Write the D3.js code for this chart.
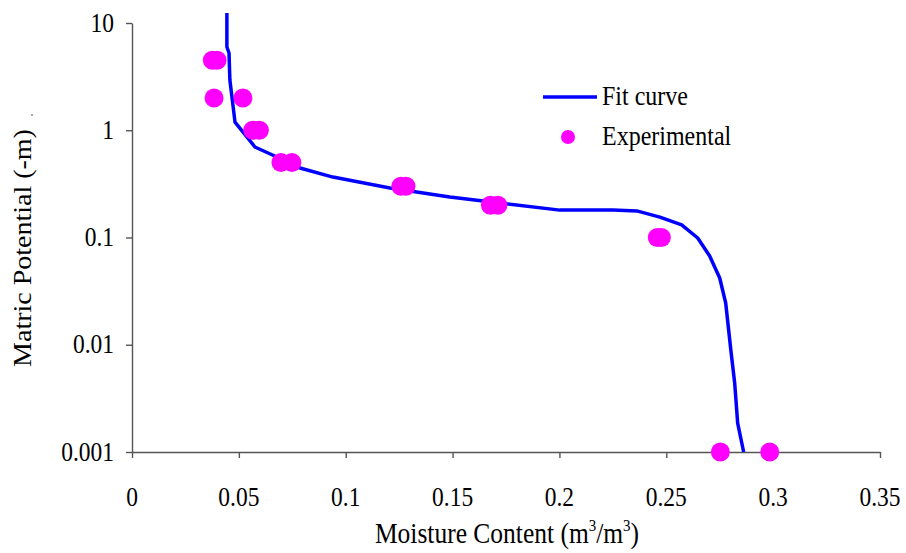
<!DOCTYPE html>
<html><head><meta charset="utf-8">
<script src="https://cdn.jsdelivr.net/npm/d3@7"></script>
<style>
body{margin:0;background:#fff}
svg text{font-family:"Liberation Serif","Times New Roman",serif;fill:#000}
</style>
</head><body>
<svg id="c" width="906" height="553"></svg>
<script>
// Fit curve (moisture content vs matric potential)
const fitTheta = [0.0444,0.0444,0.0454,0.0458,0.0482,0.0575,0.0678,0.0786,0.094,0.1207,0.1487,0.1721,0.2002,0.225,0.2362,0.247,0.2572,0.2647,0.2703,0.275,0.2778,0.2802,0.282,0.2834,0.2862];
const fitPsi   = [12.4,5.97,5.25,2.94,1.19,0.698,0.563,0.445,0.366,0.29,0.239,0.21,0.18,0.18,0.177,0.155,0.131,0.0989,0.0672,0.0419,0.0245,0.00893,0.0044,0.00186,0.001];
// Experimental points
const expTheta = [0.0376,0.0398,0.0384,0.0519,0.0565,0.0596,0.0697,0.0748,0.1258,0.1282,0.1677,0.1712,0.2458,0.2477,0.2753,0.2984];
const expPsi   = [4.5,4.5,2,2,1,1,0.5,0.5,0.3,0.3,0.2,0.2,0.1,0.1,0.001,0.001];
// Axes
const xTicks = [0,0.05,0.1,0.15,0.2,0.25,0.3,0.35];
const xTickLabels = ["0","0.05","0.1","0.15","0.2","0.25","0.3","0.35"];
const yTicks = [0.001,0.01,0.1,1,10];
const yTickLabels = ["0.001","0.01","0.1","1","10"];
const seriesNames = ["Fit curve","Experimental"];

const svg = d3.select("#c");
const x = d3.scaleLinear().domain([0,0.35]).range([132,880]);
const y = d3.scaleLog().domain([0.001,10]).range([452,23]);
const S = 1.12; // vertical stretch of text seen in reference

function txt(g, s, px, py, size, anchor){
  return g.append("text").attr("transform",`translate(${px},${py}) scale(1,${S})`)
    .attr("text-anchor",anchor).attr("font-size",size).text(s);
}

const axisColor = "#555";
const gx = svg.append("g").attr("transform","translate(0,452)")
  .call(d3.axisBottom(x).tickValues(xTicks).tickFormat("").tickSize(6).tickSizeOuter(0));
const gy = svg.append("g").attr("transform","translate(132,0)")
  .call(d3.axisLeft(y).tickValues(yTicks).tickFormat("").tickSize(6).tickSizeOuter(0));
[gx,gy].forEach(g=>{
  g.selectAll("path,line").attr("stroke",axisColor).attr("stroke-width",1.4);
});

xTicks.forEach((t,i)=>txt(svg,xTickLabels[i],x(t),506,23.5,"middle"));
yTicks.forEach((t,i)=>txt(svg,yTickLabels[i],114,y(t)+8.5,23.5,"end"));

// titles
const xt = svg.append("text").attr("transform",`translate(507,543) scale(1,${S})`)
  .attr("text-anchor","middle").attr("font-size",25.5);
xt.append("tspan").text("Moisture Content (m");
xt.append("tspan").attr("font-size",15).attr("dy",-11).text("3");
xt.append("tspan").attr("dy",11).text("/m");
xt.append("tspan").attr("font-size",15).attr("dy",-11).text("3");
xt.append("tspan").attr("dy",11).text(")");

svg.append("text").attr("transform",`translate(31,248) rotate(-90) scale(${S},1)`)
  .attr("text-anchor","middle").attr("font-size",25).text("Matric Potential (-m)");
svg.append("circle").attr("cx",32).attr("cy",115).attr("r",0.8).attr("fill","#333");

// fit curve
const fitData = fitTheta.map((t,i)=>[t,fitPsi[i]]);
svg.append("path").datum(fitData)
  .attr("d",d3.line().x(d=>x(d[0])).y(d=>y(d[1])))
  .attr("fill","none").attr("stroke","#0000ff").attr("stroke-width",3.5).attr("stroke-linejoin","round");

// experimental
svg.append("g").selectAll("circle").data(expTheta.map((t,i)=>[t,expPsi[i]])).join("circle")
  .attr("cx",d=>x(d[0])).attr("cy",d=>y(d[1])).attr("r",9.5).attr("fill","#ff00ff");

// legend
svg.append("line").attr("x1",543).attr("x2",597).attr("y1",97).attr("y2",97)
  .attr("stroke","#0000ff").attr("stroke-width",3.5);
svg.append("circle").attr("cx",568).attr("cy",137).attr("r",7).attr("fill","#ff00ff");
txt(svg,seriesNames[0],602,105,24,"start");
txt(svg,seriesNames[1],602,145,24,"start");
</script>
</body></html>
